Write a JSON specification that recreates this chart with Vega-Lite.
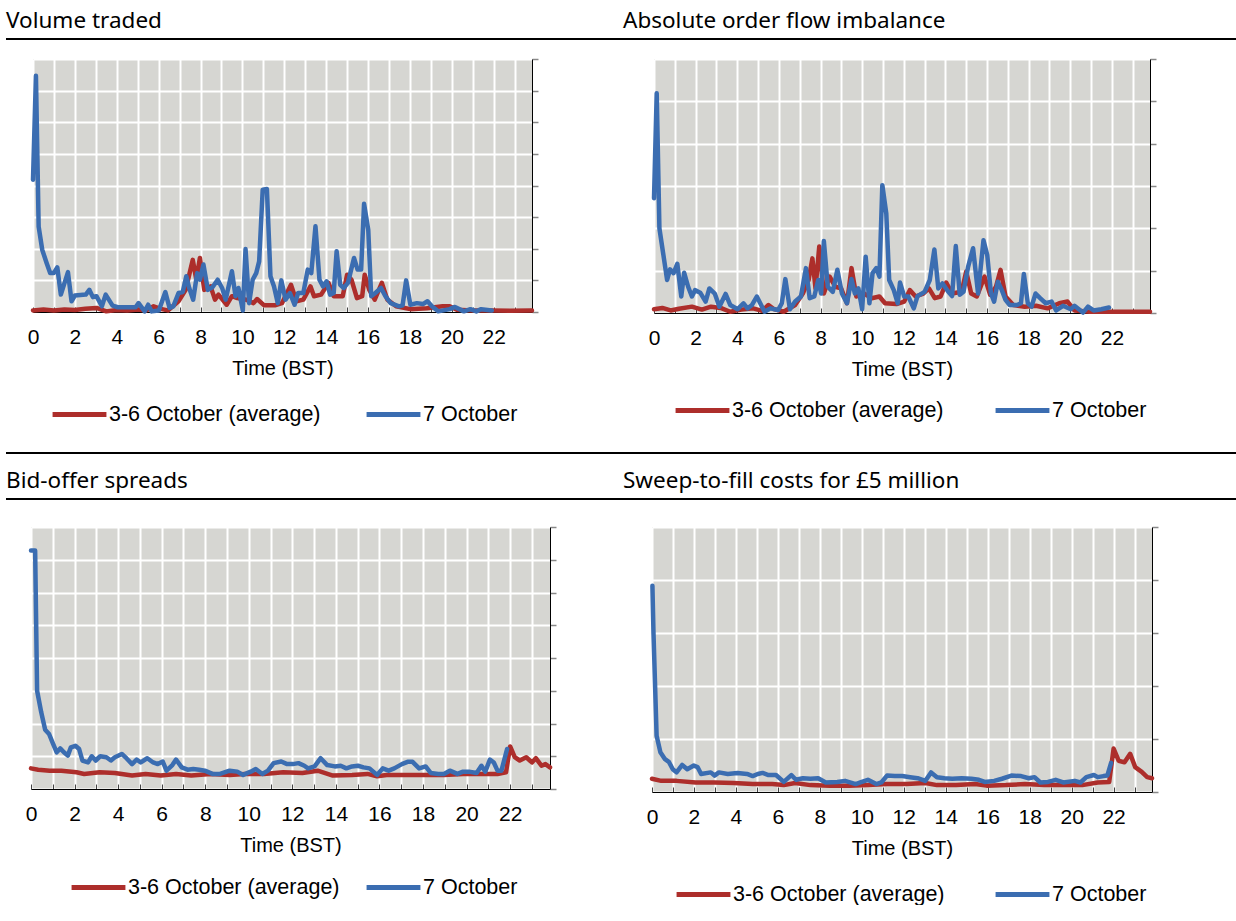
{
"$schema": "https://vega.github.io/schema/vega-lite/v6.json",
"padding": {"left": 6, "top": 9, "right": 0, "bottom": 0},
"background": "white",
"spacing": 0,
"bounds": "flush",
"resolve": {"scale": {"color": "independent"}, "legend": {"color": "independent"}},
"config": {
  "view": {"stroke": null},
  "axis": {"gridColor": "white", "gridWidth": 2, "gridOpacity": 1, "domainColor": "black", "domainWidth": 1, "labelFont": "Liberation Sans", "labelFontSize": 21, "labelColor": "black", "titleFont": "Liberation Sans", "titleFontSize": 20, "titleFontWeight": "normal", "titleColor": "black", "labelFlush": false, "labelOverlap": false, "labelBound": false},
  "axisX": {"tickSize": -5, "tickColor": "#444", "tickWidth": 1, "labelPadding": 19, "titlePadding": 11},
  "axisY": {"labels": false, "tickSize": 6, "tickColor": "#888", "tickWidth": 1.5, "title": null},
  "legend": {"orient": "none", "direction": "horizontal", "symbolType": "stroke", "symbolSize": 2900, "symbolStrokeWidth": 5, "labelFont": "Liberation Sans", "labelFontSize": 21.5, "labelColor": "black", "labelOffset": 0, "padding": 0, "labelLimit": 400},
  "title": {"font": "Noto Sans", "fontSize": 22.5, "fontWeight": "normal", "color": "black", "anchor": "start", "baseline": "alphabetic", "offset": 1}
},
"datasets": {
"vol": [
{"t":0,"v":0.05,"s":"a"},{"t":0.5,"v":0.08,"s":"a"},{"t":1,"v":0.05,"s":"a"},{"t":1.5,"v":0.08,"s":"a"},{"t":2,"v":0.06,"s":"a"},{"t":2.5,"v":0.1,"s":"a"},{"t":3.03,"v":0.13,"s":"a"},{"t":3.5,"v":0.02,"s":"a"},{"t":4,"v":0.06,"s":"a"},{"t":4.5,"v":0.05,"s":"a"},{"t":5,"v":0.08,"s":"a"},{"t":5.4,"v":0.05,"s":"a"},{"t":5.76,"v":0.18,"s":"a"},{"t":6.1,"v":0.1,"s":"a"},{"t":6.44,"v":0.05,"s":"a"},{"t":6.95,"v":0.34,"s":"a"},{"t":7.29,"v":0.7,"s":"a"},{"t":7.63,"v":1.65,"s":"a"},{"t":7.8,"v":1.02,"s":"a"},{"t":7.97,"v":1.71,"s":"a"},{"t":8.18,"v":0.7,"s":"a"},{"t":8.48,"v":0.81,"s":"a"},{"t":8.69,"v":0.39,"s":"a"},{"t":8.86,"v":0.55,"s":"a"},{"t":9.25,"v":0.23,"s":"a"},{"t":9.5,"v":0.5,"s":"a"},{"t":9.76,"v":0.44,"s":"a"},{"t":10.19,"v":0.39,"s":"a"},{"t":10.53,"v":0.28,"s":"a"},{"t":10.7,"v":0.41,"s":"a"},{"t":11.04,"v":0.21,"s":"a"},{"t":11.55,"v":0.21,"s":"a"},{"t":11.89,"v":0.28,"s":"a"},{"t":12.32,"v":0.86,"s":"a"},{"t":12.58,"v":0.34,"s":"a"},{"t":12.91,"v":0.39,"s":"a"},{"t":13.25,"v":0.81,"s":"a"},{"t":13.42,"v":0.5,"s":"a"},{"t":13.76,"v":0.55,"s":"a"},{"t":14.11,"v":0.92,"s":"a"},{"t":14.36,"v":0.5,"s":"a"},{"t":14.79,"v":0.5,"s":"a"},{"t":15.0,"v":1.18,"s":"a"},{"t":15.21,"v":1.02,"s":"a"},{"t":15.47,"v":0.44,"s":"a"},{"t":15.72,"v":0.5,"s":"a"},{"t":15.84,"v":1.18,"s":"a"},{"t":16.06,"v":0.7,"s":"a"},{"t":16.32,"v":0.39,"s":"a"},{"t":16.66,"v":0.92,"s":"a"},{"t":16.92,"v":0.39,"s":"a"},{"t":17.34,"v":0.18,"s":"a"},{"t":18.02,"v":0.09,"s":"a"},{"t":18.8,"v":0.12,"s":"a"},{"t":19.56,"v":0.18,"s":"a"},{"t":19.9,"v":0.18,"s":"a"},{"t":20.24,"v":0.07,"s":"a"},{"t":21,"v":0.05,"s":"a"},{"t":21.9,"v":0.05,"s":"a"},{"t":22.8,"v":0.04,"s":"a"},{"t":23.83,"v":0.05,"s":"a"},
{"t":0,"v":4.18,"s":"b"},{"t":0.14,"v":7.47,"s":"b"},{"t":0.27,"v":2.7,"s":"b"},{"t":0.44,"v":1.97,"s":"b"},{"t":0.65,"v":1.55,"s":"b"},{"t":0.82,"v":1.23,"s":"b"},{"t":0.99,"v":1.23,"s":"b"},{"t":1.16,"v":1.41,"s":"b"},{"t":1.33,"v":0.55,"s":"b"},{"t":1.67,"v":1.26,"s":"b"},{"t":1.84,"v":0.34,"s":"b"},{"t":2.0,"v":0.52,"s":"b"},{"t":2.52,"v":0.55,"s":"b"},{"t":2.69,"v":0.7,"s":"b"},{"t":2.86,"v":0.47,"s":"b"},{"t":3.03,"v":0.5,"s":"b"},{"t":3.29,"v":0.18,"s":"b"},{"t":3.47,"v":0.55,"s":"b"},{"t":3.8,"v":0.2,"s":"b"},{"t":4.05,"v":0.15,"s":"b"},{"t":4.9,"v":0.15,"s":"b"},{"t":5.04,"v":0.28,"s":"b"},{"t":5.33,"v":0.02,"s":"b"},{"t":5.5,"v":0.23,"s":"b"},{"t":5.67,"v":0.02,"s":"b"},{"t":6.01,"v":0.05,"s":"b"},{"t":6.32,"v":0.63,"s":"b"},{"t":6.52,"v":0.13,"s":"b"},{"t":6.7,"v":0.18,"s":"b"},{"t":6.95,"v":0.6,"s":"b"},{"t":7.15,"v":0.63,"s":"b"},{"t":7.32,"v":1.13,"s":"b"},{"t":7.46,"v":0.76,"s":"b"},{"t":7.65,"v":0.39,"s":"b"},{"t":7.84,"v":1.23,"s":"b"},{"t":7.97,"v":1.02,"s":"b"},{"t":8.14,"v":1.5,"s":"b"},{"t":8.35,"v":0.7,"s":"b"},{"t":8.57,"v":0.78,"s":"b"},{"t":8.82,"v":1.02,"s":"b"},{"t":9.03,"v":0.76,"s":"b"},{"t":9.2,"v":0.39,"s":"b"},{"t":9.5,"v":1.29,"s":"b"},{"t":9.67,"v":0.5,"s":"b"},{"t":9.81,"v":0.76,"s":"b"},{"t":10.02,"v":0.05,"s":"b"},{"t":10.15,"v":1.99,"s":"b"},{"t":10.32,"v":0.28,"s":"b"},{"t":10.49,"v":1.02,"s":"b"},{"t":10.66,"v":1.23,"s":"b"},{"t":10.8,"v":1.6,"s":"b"},{"t":10.97,"v":3.87,"s":"b"},{"t":11.17,"v":3.89,"s":"b"},{"t":11.34,"v":1.13,"s":"b"},{"t":11.51,"v":0.81,"s":"b"},{"t":11.69,"v":0.28,"s":"b"},{"t":11.86,"v":1.0,"s":"b"},{"t":12.06,"v":0.39,"s":"b"},{"t":12.27,"v":0.6,"s":"b"},{"t":12.49,"v":0.23,"s":"b"},{"t":12.66,"v":0.6,"s":"b"},{"t":12.91,"v":0.6,"s":"b"},{"t":13.12,"v":1.34,"s":"b"},{"t":13.29,"v":1.23,"s":"b"},{"t":13.49,"v":2.71,"s":"b"},{"t":13.68,"v":1.02,"s":"b"},{"t":13.85,"v":0.81,"s":"b"},{"t":14.02,"v":0.97,"s":"b"},{"t":14.19,"v":0.55,"s":"b"},{"t":14.36,"v":0.6,"s":"b"},{"t":14.5,"v":1.92,"s":"b"},{"t":14.67,"v":0.86,"s":"b"},{"t":14.84,"v":0.76,"s":"b"},{"t":15.04,"v":0.92,"s":"b"},{"t":15.33,"v":1.71,"s":"b"},{"t":15.5,"v":1.34,"s":"b"},{"t":15.67,"v":1.34,"s":"b"},{"t":15.81,"v":3.42,"s":"b"},{"t":16.01,"v":2.6,"s":"b"},{"t":16.15,"v":0.5,"s":"b"},{"t":16.35,"v":0.6,"s":"b"},{"t":16.62,"v":0.76,"s":"b"},{"t":16.83,"v":0.5,"s":"b"},{"t":17.08,"v":0.28,"s":"b"},{"t":17.48,"v":0.18,"s":"b"},{"t":17.65,"v":0.21,"s":"b"},{"t":17.82,"v":1.0,"s":"b"},{"t":18.02,"v":0.23,"s":"b"},{"t":18.33,"v":0.28,"s":"b"},{"t":18.62,"v":0.25,"s":"b"},{"t":18.84,"v":0.34,"s":"b"},{"t":19.05,"v":0.18,"s":"b"},{"t":19.35,"v":0.02,"s":"b"},{"t":19.9,"v":0.09,"s":"b"},{"t":20.15,"v":0.16,"s":"b"},{"t":20.58,"v":0.02,"s":"b"},{"t":20.89,"v":0.09,"s":"b"},{"t":21.17,"v":0.02,"s":"b"},{"t":21.4,"v":0.09,"s":"b"},{"t":21.91,"v":0.05,"s":"b"}
],
"ofi": [
{"t":0,"v":0.09,"s":"a"},{"t":0.4,"v":0.12,"s":"a"},{"t":0.8,"v":0.06,"s":"a"},{"t":1.2,"v":0.1,"s":"a"},{"t":1.82,"v":0.15,"s":"a"},{"t":2.3,"v":0.08,"s":"a"},{"t":2.74,"v":0.15,"s":"a"},{"t":3.2,"v":0.12,"s":"a"},{"t":3.66,"v":0.03,"s":"a"},{"t":4.2,"v":0.08,"s":"a"},{"t":4.76,"v":0.11,"s":"a"},{"t":5.2,"v":0.05,"s":"a"},{"t":5.5,"v":0.19,"s":"a"},{"t":5.77,"v":0.09,"s":"a"},{"t":6.23,"v":0.03,"s":"a"},{"t":6.78,"v":0.19,"s":"a"},{"t":7.15,"v":0.46,"s":"a"},{"t":7.43,"v":0.78,"s":"a"},{"t":7.61,"v":1.29,"s":"a"},{"t":7.76,"v":0.58,"s":"a"},{"t":7.94,"v":1.57,"s":"a"},{"t":8.16,"v":0.46,"s":"a"},{"t":8.44,"v":0.86,"s":"a"},{"t":8.71,"v":0.62,"s":"a"},{"t":8.99,"v":0.58,"s":"a"},{"t":9.27,"v":0.23,"s":"a"},{"t":9.49,"v":1.06,"s":"a"},{"t":9.72,"v":0.39,"s":"a"},{"t":10.09,"v":0.46,"s":"a"},{"t":10.46,"v":0.35,"s":"a"},{"t":10.83,"v":0.39,"s":"a"},{"t":11.1,"v":0.23,"s":"a"},{"t":11.65,"v":0.21,"s":"a"},{"t":12.02,"v":0.27,"s":"a"},{"t":12.29,"v":0.54,"s":"a"},{"t":12.57,"v":0.39,"s":"a"},{"t":12.94,"v":0.46,"s":"a"},{"t":13.21,"v":0.58,"s":"a"},{"t":13.49,"v":0.35,"s":"a"},{"t":13.77,"v":0.39,"s":"a"},{"t":14.04,"v":0.72,"s":"a"},{"t":14.32,"v":0.46,"s":"a"},{"t":14.78,"v":0.5,"s":"a"},{"t":15.0,"v":0.98,"s":"a"},{"t":15.24,"v":0.46,"s":"a"},{"t":15.51,"v":0.39,"s":"a"},{"t":15.88,"v":0.86,"s":"a"},{"t":16.15,"v":0.43,"s":"a"},{"t":16.43,"v":0.62,"s":"a"},{"t":16.65,"v":1.02,"s":"a"},{"t":16.89,"v":0.39,"s":"a"},{"t":17.26,"v":0.19,"s":"a"},{"t":17.81,"v":0.15,"s":"a"},{"t":18.36,"v":0.17,"s":"a"},{"t":18.91,"v":0.11,"s":"a"},{"t":19.47,"v":0.23,"s":"a"},{"t":19.87,"v":0.27,"s":"a"},{"t":20.2,"v":0.06,"s":"a"},{"t":20.94,"v":0.03,"s":"a"},{"t":21.86,"v":0.03,"s":"a"},{"t":22.78,"v":0.03,"s":"a"},{"t":23.83,"v":0.03,"s":"a"},
{"t":0,"v":2.71,"s":"b"},{"t":0.13,"v":5.19,"s":"b"},{"t":0.26,"v":2.0,"s":"b"},{"t":0.44,"v":1.41,"s":"b"},{"t":0.63,"v":0.78,"s":"b"},{"t":0.77,"v":1.03,"s":"b"},{"t":0.94,"v":0.94,"s":"b"},{"t":1.12,"v":1.16,"s":"b"},{"t":1.31,"v":0.39,"s":"b"},{"t":1.45,"v":0.95,"s":"b"},{"t":1.64,"v":0.62,"s":"b"},{"t":1.82,"v":0.39,"s":"b"},{"t":1.97,"v":0.54,"s":"b"},{"t":2.22,"v":0.48,"s":"b"},{"t":2.48,"v":0.27,"s":"b"},{"t":2.66,"v":0.58,"s":"b"},{"t":2.92,"v":0.46,"s":"b"},{"t":3.14,"v":0.15,"s":"b"},{"t":3.44,"v":0.45,"s":"b"},{"t":3.66,"v":0.19,"s":"b"},{"t":4.02,"v":0.09,"s":"b"},{"t":4.3,"v":0.23,"s":"b"},{"t":4.49,"v":0.11,"s":"b"},{"t":4.71,"v":0.19,"s":"b"},{"t":4.94,"v":0.39,"s":"b"},{"t":5.31,"v":0.03,"s":"b"},{"t":5.59,"v":0.11,"s":"b"},{"t":5.96,"v":0.07,"s":"b"},{"t":6.14,"v":0.23,"s":"b"},{"t":6.31,"v":0.8,"s":"b"},{"t":6.53,"v":0.09,"s":"b"},{"t":6.78,"v":0.27,"s":"b"},{"t":7.06,"v":0.39,"s":"b"},{"t":7.3,"v":1.06,"s":"b"},{"t":7.48,"v":0.35,"s":"b"},{"t":7.7,"v":0.39,"s":"b"},{"t":7.89,"v":0.78,"s":"b"},{"t":8.03,"v":0.46,"s":"b"},{"t":8.16,"v":1.7,"s":"b"},{"t":8.35,"v":0.62,"s":"b"},{"t":8.59,"v":0.5,"s":"b"},{"t":8.81,"v":1.02,"s":"b"},{"t":9.03,"v":0.46,"s":"b"},{"t":9.27,"v":0.23,"s":"b"},{"t":9.49,"v":0.8,"s":"b"},{"t":9.65,"v":0.46,"s":"b"},{"t":9.82,"v":0.58,"s":"b"},{"t":10.0,"v":0.09,"s":"b"},{"t":10.17,"v":1.33,"s":"b"},{"t":10.35,"v":0.23,"s":"b"},{"t":10.5,"v":0.94,"s":"b"},{"t":10.68,"v":1.06,"s":"b"},{"t":10.83,"v":0.86,"s":"b"},{"t":10.97,"v":3.02,"s":"b"},{"t":11.16,"v":2.35,"s":"b"},{"t":11.3,"v":0.78,"s":"b"},{"t":11.52,"v":0.54,"s":"b"},{"t":11.71,"v":0.23,"s":"b"},{"t":11.82,"v":0.72,"s":"b"},{"t":12.02,"v":0.39,"s":"b"},{"t":12.22,"v":0.39,"s":"b"},{"t":12.48,"v":0.11,"s":"b"},{"t":12.66,"v":0.4,"s":"b"},{"t":13.0,"v":0.5,"s":"b"},{"t":13.25,"v":0.78,"s":"b"},{"t":13.47,"v":1.5,"s":"b"},{"t":13.66,"v":0.58,"s":"b"},{"t":13.86,"v":0.7,"s":"b"},{"t":14.14,"v":0.5,"s":"b"},{"t":14.32,"v":0.4,"s":"b"},{"t":14.5,"v":1.58,"s":"b"},{"t":14.69,"v":0.43,"s":"b"},{"t":14.87,"v":0.5,"s":"b"},{"t":15.09,"v":1.09,"s":"b"},{"t":15.33,"v":1.53,"s":"b"},{"t":15.57,"v":0.46,"s":"b"},{"t":15.83,"v":1.72,"s":"b"},{"t":16.01,"v":1.37,"s":"b"},{"t":16.19,"v":0.46,"s":"b"},{"t":16.34,"v":0.27,"s":"b"},{"t":16.52,"v":0.74,"s":"b"},{"t":16.71,"v":0.54,"s":"b"},{"t":16.89,"v":0.31,"s":"b"},{"t":17.08,"v":0.19,"s":"b"},{"t":17.44,"v":0.19,"s":"b"},{"t":17.63,"v":0.23,"s":"b"},{"t":17.77,"v":0.92,"s":"b"},{"t":17.96,"v":0.23,"s":"b"},{"t":18.14,"v":0.15,"s":"b"},{"t":18.33,"v":0.46,"s":"b"},{"t":18.55,"v":0.35,"s":"b"},{"t":18.82,"v":0.23,"s":"b"},{"t":19.1,"v":0.27,"s":"b"},{"t":19.32,"v":0.06,"s":"b"},{"t":19.65,"v":0.17,"s":"b"},{"t":20.02,"v":0.09,"s":"b"},{"t":20.2,"v":0.17,"s":"b"},{"t":20.61,"v":0.01,"s":"b"},{"t":20.85,"v":0.15,"s":"b"},{"t":21.12,"v":0.06,"s":"b"},{"t":21.49,"v":0.09,"s":"b"},{"t":21.86,"v":0.13,"s":"b"}
],
"bid": [
{"t":0,"v":0.63,"s":"a"},{"t":0.33,"v":0.59,"s":"a"},{"t":0.86,"v":0.56,"s":"a"},{"t":1.39,"v":0.56,"s":"a"},{"t":2.09,"v":0.51,"s":"a"},{"t":2.44,"v":0.46,"s":"a"},{"t":3.15,"v":0.51,"s":"a"},{"t":3.85,"v":0.49,"s":"a"},{"t":4.64,"v":0.41,"s":"a"},{"t":5.26,"v":0.46,"s":"a"},{"t":5.96,"v":0.41,"s":"a"},{"t":6.66,"v":0.46,"s":"a"},{"t":7.36,"v":0.41,"s":"a"},{"t":8.24,"v":0.46,"s":"a"},{"t":9.12,"v":0.43,"s":"a"},{"t":9.82,"v":0.46,"s":"a"},{"t":10.7,"v":0.46,"s":"a"},{"t":11.58,"v":0.51,"s":"a"},{"t":12.46,"v":0.49,"s":"a"},{"t":13.16,"v":0.56,"s":"a"},{"t":13.86,"v":0.41,"s":"a"},{"t":14.74,"v":0.43,"s":"a"},{"t":15.45,"v":0.46,"s":"a"},{"t":15.89,"v":0.39,"s":"a"},{"t":16.33,"v":0.43,"s":"a"},{"t":17.2,"v":0.43,"s":"a"},{"t":18.08,"v":0.43,"s":"a"},{"t":18.96,"v":0.43,"s":"a"},{"t":19.84,"v":0.46,"s":"a"},{"t":20.72,"v":0.46,"s":"a"},{"t":21.42,"v":0.46,"s":"a"},{"t":21.81,"v":0.51,"s":"a"},{"t":22.0,"v":1.3,"s":"a"},{"t":22.21,"v":0.97,"s":"a"},{"t":22.44,"v":0.87,"s":"a"},{"t":22.74,"v":0.97,"s":"a"},{"t":23.0,"v":0.81,"s":"a"},{"t":23.18,"v":0.94,"s":"a"},{"t":23.44,"v":0.71,"s":"a"},{"t":23.62,"v":0.76,"s":"a"},{"t":23.83,"v":0.66,"s":"a"},
{"t":0,"v":7.28,"s":"b"},{"t":0.19,"v":7.28,"s":"b"},{"t":0.28,"v":3.0,"s":"b"},{"t":0.47,"v":2.34,"s":"b"},{"t":0.65,"v":1.81,"s":"b"},{"t":0.83,"v":1.68,"s":"b"},{"t":1.0,"v":1.4,"s":"b"},{"t":1.18,"v":1.12,"s":"b"},{"t":1.34,"v":1.24,"s":"b"},{"t":1.51,"v":1.12,"s":"b"},{"t":1.69,"v":1.02,"s":"b"},{"t":1.83,"v":1.27,"s":"b"},{"t":2.04,"v":1.32,"s":"b"},{"t":2.21,"v":1.22,"s":"b"},{"t":2.36,"v":0.87,"s":"b"},{"t":2.62,"v":0.81,"s":"b"},{"t":2.79,"v":1.0,"s":"b"},{"t":2.97,"v":0.87,"s":"b"},{"t":3.18,"v":1.0,"s":"b"},{"t":3.46,"v":0.97,"s":"b"},{"t":3.67,"v":0.87,"s":"b"},{"t":3.85,"v":0.97,"s":"b"},{"t":4.17,"v":1.07,"s":"b"},{"t":4.38,"v":0.94,"s":"b"},{"t":4.64,"v":0.76,"s":"b"},{"t":4.85,"v":0.9,"s":"b"},{"t":5.04,"v":0.81,"s":"b"},{"t":5.34,"v":0.94,"s":"b"},{"t":5.61,"v":0.81,"s":"b"},{"t":5.82,"v":0.76,"s":"b"},{"t":6.05,"v":0.84,"s":"b"},{"t":6.22,"v":0.56,"s":"b"},{"t":6.49,"v":0.73,"s":"b"},{"t":6.66,"v":0.9,"s":"b"},{"t":6.92,"v":0.66,"s":"b"},{"t":7.19,"v":0.59,"s":"b"},{"t":7.45,"v":0.61,"s":"b"},{"t":7.72,"v":0.59,"s":"b"},{"t":7.98,"v":0.56,"s":"b"},{"t":8.33,"v":0.46,"s":"b"},{"t":8.68,"v":0.46,"s":"b"},{"t":9.12,"v":0.56,"s":"b"},{"t":9.47,"v":0.53,"s":"b"},{"t":9.74,"v":0.43,"s":"b"},{"t":10.09,"v":0.53,"s":"b"},{"t":10.32,"v":0.61,"s":"b"},{"t":10.62,"v":0.46,"s":"b"},{"t":10.88,"v":0.56,"s":"b"},{"t":11.14,"v":0.79,"s":"b"},{"t":11.49,"v":0.84,"s":"b"},{"t":11.76,"v":0.76,"s":"b"},{"t":12.02,"v":0.76,"s":"b"},{"t":12.28,"v":0.79,"s":"b"},{"t":12.55,"v":0.71,"s":"b"},{"t":12.72,"v":0.63,"s":"b"},{"t":13.02,"v":0.69,"s":"b"},{"t":13.3,"v":0.94,"s":"b"},{"t":13.6,"v":0.73,"s":"b"},{"t":13.95,"v":0.69,"s":"b"},{"t":14.22,"v":0.71,"s":"b"},{"t":14.48,"v":0.63,"s":"b"},{"t":14.74,"v":0.69,"s":"b"},{"t":15.01,"v":0.71,"s":"b"},{"t":15.27,"v":0.66,"s":"b"},{"t":15.54,"v":0.63,"s":"b"},{"t":15.89,"v":0.43,"s":"b"},{"t":16.15,"v":0.63,"s":"b"},{"t":16.42,"v":0.56,"s":"b"},{"t":16.68,"v":0.63,"s":"b"},{"t":17.03,"v":0.76,"s":"b"},{"t":17.29,"v":0.83,"s":"b"},{"t":17.52,"v":0.83,"s":"b"},{"t":17.82,"v":0.63,"s":"b"},{"t":18.12,"v":0.69,"s":"b"},{"t":18.35,"v":0.49,"s":"b"},{"t":18.7,"v":0.46,"s":"b"},{"t":18.96,"v":0.46,"s":"b"},{"t":19.23,"v":0.56,"s":"b"},{"t":19.58,"v":0.46,"s":"b"},{"t":19.84,"v":0.53,"s":"b"},{"t":20.11,"v":0.53,"s":"b"},{"t":20.46,"v":0.49,"s":"b"},{"t":20.68,"v":0.71,"s":"b"},{"t":20.86,"v":0.53,"s":"b"},{"t":21.07,"v":0.9,"s":"b"},{"t":21.25,"v":0.81,"s":"b"},{"t":21.42,"v":0.56,"s":"b"},{"t":21.6,"v":0.56,"s":"b"},{"t":21.86,"v":1.22,"s":"b"}
],
"stf": [
{"t":0,"v":0.25,"s":"a"},{"t":0.44,"v":0.21,"s":"a"},{"t":1.17,"v":0.21,"s":"a"},{"t":2.08,"v":0.18,"s":"a"},{"t":2.98,"v":0.18,"s":"a"},{"t":3.89,"v":0.17,"s":"a"},{"t":4.8,"v":0.15,"s":"a"},{"t":5.73,"v":0.15,"s":"a"},{"t":6.28,"v":0.13,"s":"a"},{"t":6.82,"v":0.17,"s":"a"},{"t":7.55,"v":0.13,"s":"a"},{"t":8.47,"v":0.12,"s":"a"},{"t":9.38,"v":0.12,"s":"a"},{"t":10.29,"v":0.13,"s":"a"},{"t":11.2,"v":0.15,"s":"a"},{"t":12.12,"v":0.15,"s":"a"},{"t":13.03,"v":0.17,"s":"a"},{"t":13.58,"v":0.13,"s":"a"},{"t":14.49,"v":0.13,"s":"a"},{"t":15.4,"v":0.15,"s":"a"},{"t":15.95,"v":0.12,"s":"a"},{"t":16.86,"v":0.13,"s":"a"},{"t":17.77,"v":0.15,"s":"a"},{"t":18.69,"v":0.13,"s":"a"},{"t":19.6,"v":0.13,"s":"a"},{"t":20.51,"v":0.13,"s":"a"},{"t":21.24,"v":0.18,"s":"a"},{"t":21.79,"v":0.19,"s":"a"},{"t":22.0,"v":0.82,"s":"a"},{"t":22.24,"v":0.59,"s":"a"},{"t":22.52,"v":0.56,"s":"a"},{"t":22.79,"v":0.72,"s":"a"},{"t":23.03,"v":0.47,"s":"a"},{"t":23.34,"v":0.38,"s":"a"},{"t":23.6,"v":0.28,"s":"a"},{"t":23.83,"v":0.26,"s":"a"},
{"t":0.02,"v":3.89,"s":"b"},{"t":0.07,"v":3.01,"s":"b"},{"t":0.22,"v":1.06,"s":"b"},{"t":0.4,"v":0.75,"s":"b"},{"t":0.62,"v":0.62,"s":"b"},{"t":0.8,"v":0.57,"s":"b"},{"t":0.99,"v":0.43,"s":"b"},{"t":1.17,"v":0.37,"s":"b"},{"t":1.44,"v":0.51,"s":"b"},{"t":1.68,"v":0.43,"s":"b"},{"t":1.99,"v":0.5,"s":"b"},{"t":2.17,"v":0.47,"s":"b"},{"t":2.34,"v":0.34,"s":"b"},{"t":2.8,"v":0.37,"s":"b"},{"t":2.98,"v":0.31,"s":"b"},{"t":3.19,"v":0.37,"s":"b"},{"t":3.61,"v":0.34,"s":"b"},{"t":4.07,"v":0.36,"s":"b"},{"t":4.53,"v":0.34,"s":"b"},{"t":4.8,"v":0.3,"s":"b"},{"t":5.04,"v":0.34,"s":"b"},{"t":5.27,"v":0.36,"s":"b"},{"t":5.55,"v":0.32,"s":"b"},{"t":5.91,"v":0.32,"s":"b"},{"t":6.28,"v":0.19,"s":"b"},{"t":6.64,"v":0.32,"s":"b"},{"t":6.86,"v":0.23,"s":"b"},{"t":7.19,"v":0.26,"s":"b"},{"t":7.55,"v":0.25,"s":"b"},{"t":7.92,"v":0.26,"s":"b"},{"t":8.28,"v":0.18,"s":"b"},{"t":8.83,"v":0.19,"s":"b"},{"t":9.2,"v":0.21,"s":"b"},{"t":9.71,"v":0.15,"s":"b"},{"t":9.93,"v":0.18,"s":"b"},{"t":10.29,"v":0.23,"s":"b"},{"t":10.69,"v":0.15,"s":"b"},{"t":10.93,"v":0.18,"s":"b"},{"t":11.2,"v":0.31,"s":"b"},{"t":11.57,"v":0.3,"s":"b"},{"t":11.93,"v":0.3,"s":"b"},{"t":12.3,"v":0.28,"s":"b"},{"t":12.66,"v":0.26,"s":"b"},{"t":13.03,"v":0.21,"s":"b"},{"t":13.3,"v":0.37,"s":"b"},{"t":13.58,"v":0.28,"s":"b"},{"t":13.94,"v":0.26,"s":"b"},{"t":14.31,"v":0.25,"s":"b"},{"t":14.76,"v":0.26,"s":"b"},{"t":15.22,"v":0.25,"s":"b"},{"t":15.58,"v":0.23,"s":"b"},{"t":15.86,"v":0.19,"s":"b"},{"t":16.31,"v":0.21,"s":"b"},{"t":16.68,"v":0.25,"s":"b"},{"t":17.13,"v":0.31,"s":"b"},{"t":17.59,"v":0.3,"s":"b"},{"t":17.96,"v":0.26,"s":"b"},{"t":18.23,"v":0.28,"s":"b"},{"t":18.51,"v":0.18,"s":"b"},{"t":18.87,"v":0.19,"s":"b"},{"t":19.24,"v":0.23,"s":"b"},{"t":19.6,"v":0.18,"s":"b"},{"t":20.15,"v":0.21,"s":"b"},{"t":20.42,"v":0.18,"s":"b"},{"t":20.7,"v":0.28,"s":"b"},{"t":21.06,"v":0.32,"s":"b"},{"t":21.24,"v":0.28,"s":"b"},{"t":21.52,"v":0.3,"s":"b"},{"t":21.7,"v":0.31,"s":"b"},{"t":21.88,"v":0.55,"s":"b"}
]
},
"vconcat": [
  {"hconcat": [
    {"width": 617, "height": 2, "title": {"text": "Volume traded"}, "view": {"fill": "black", "stroke": null}, "data": {"values": [{}]}, "mark": {"type": "text"}, "encoding": {"text": {"value": ""}}},
    {"width": 613, "height": 2, "title": {"text": "Absolute order flow imbalance"}, "view": {"fill": "black", "stroke": null}, "data": {"values": [{}]}, "mark": {"type": "text"}, "encoding": {"text": {"value": ""}}}
  ], "spacing": 0, "bounds": "flush"},
  {"width": 1, "height": 21, "data": {"values": [{}]}, "mark": {"type": "text"}, "encoding": {"text": {"value": ""}}},
  {"hconcat": [
    {"width": 27, "height": 1, "data": {"values": [{}]}, "mark": {"type": "text"}, "encoding": {"text": {"value": ""}}},
    {"width": 499, "height": 253, "data": {"name": "vol"}, "view": {"fill": "#d6d6d2", "stroke": null},
     "mark": {"type": "line", "strokeWidth": 4.5, "strokeJoin": "round", "strokeCap": "round"},
     "encoding": {
       "x": {"field": "t", "type": "quantitative", "scale": {"domain": [0, 23.83], "nice": false, "zero": false}, "axis": {"values": [0,1,2,3,4,5,6,7,8,9,10,11,12,13,14,15,16,17,18,19,20,21,22,23], "labelExpr": "datum.value % 2 == 0 ? datum.label : ''", "title": "Time (BST)"}},
       "y": {"field": "v", "type": "quantitative", "scale": {"domain": [0, 8], "nice": false}, "axis": {"orient": "right", "values": [0,1,2,3,4,5,6,7,8]}},
       "color": {"field": "s", "type": "nominal", "scale": {"domain": ["a", "b"], "range": ["#ad2e2b", "#3b6db1"]}, "legend": {"title": null, "legendX": 17, "legendY": 326, "columnPadding": 35, "labelExpr": "datum.value == 'a' ? '3-6 October (average)' : '7 October'"}}
     }},
    {"width": 122, "height": 1, "data": {"values": [{}]}, "mark": {"type": "text"}, "encoding": {"text": {"value": ""}}},
    {"width": 496, "height": 254, "data": {"name": "ofi"}, "view": {"fill": "#d6d6d2", "stroke": null},
     "mark": {"type": "line", "strokeWidth": 4.5, "strokeJoin": "round", "strokeCap": "round"},
     "encoding": {
       "x": {"field": "t", "type": "quantitative", "scale": {"domain": [0, 23.83], "nice": false, "zero": false}, "axis": {"values": [0,1,2,3,4,5,6,7,8,9,10,11,12,13,14,15,16,17,18,19,20,21,22,23], "labelExpr": "datum.value % 2 == 0 ? datum.label : ''", "title": "Time (BST)"}},
       "y": {"field": "v", "type": "quantitative", "scale": {"domain": [0, 6], "nice": false}, "axis": {"orient": "right", "values": [0,1,2,3,4,5,6]}},
       "color": {"field": "s", "type": "nominal", "scale": {"domain": ["a", "b"], "range": ["#ad2e2b", "#3b6db1"]}, "legend": {"title": null, "legendX": 19, "legendY": 322, "columnPadding": 41, "labelExpr": "datum.value == 'a' ? '3-6 October (average)' : '7 October'"}}
     }}
  ], "spacing": 0, "bounds": "flush", "resolve": {"scale": {"color": "independent"}, "legend": {"color": "independent"}}},
  {"width": 1, "height": 393, "data": {"values": [{}]}, "mark": {"type": "text"}, "encoding": {"text": {"value": ""}}},
  {"width": 1230, "height": 2, "view": {"fill": "black", "stroke": null}, "data": {"values": [{}]}, "mark": {"type": "text"}, "encoding": {"text": {"value": ""}}},
  {"width": 1, "height": 44, "data": {"values": [{}]}, "mark": {"type": "text"}, "encoding": {"text": {"value": ""}}},
  {"hconcat": [
    {"width": 617, "height": 2, "title": {"text": "Bid-offer spreads"}, "view": {"fill": "black", "stroke": null}, "data": {"values": [{}]}, "mark": {"type": "text"}, "encoding": {"text": {"value": ""}}},
    {"width": 613, "height": 2, "title": {"text": "Sweep-to-fill costs for £5 million"}, "view": {"fill": "black", "stroke": null}, "data": {"values": [{}]}, "mark": {"type": "text"}, "encoding": {"text": {"value": ""}}}
  ], "spacing": 0, "bounds": "flush"},
  {"width": 1, "height": 29, "data": {"values": [{}]}, "mark": {"type": "text"}, "encoding": {"text": {"value": ""}}},
  {"hconcat": [
    {"width": 25, "height": 1, "data": {"values": [{}]}, "mark": {"type": "text"}, "encoding": {"text": {"value": ""}}},
    {"width": 519, "height": 262, "data": {"name": "bid"}, "view": {"fill": "#d6d6d2", "stroke": null},
     "mark": {"type": "line", "strokeWidth": 4.5, "strokeJoin": "round", "strokeCap": "round"},
     "encoding": {
       "x": {"field": "t", "type": "quantitative", "scale": {"domain": [0, 23.83], "nice": false, "zero": false}, "axis": {"values": [0,1,2,3,4,5,6,7,8,9,10,11,12,13,14,15,16,17,18,19,20,21,22,23], "labelExpr": "datum.value % 2 == 0 ? datum.label : ''", "title": "Time (BST)"}},
       "y": {"field": "v", "type": "quantitative", "scale": {"domain": [0, 8], "nice": false}, "axis": {"orient": "right", "values": [0,1,2,3,4,5,6,7,8]}},
       "color": {"field": "s", "type": "nominal", "scale": {"domain": ["a", "b"], "range": ["#ad2e2b", "#3b6db1"]}, "legend": {"title": null, "legendX": 38, "legendY": 331, "columnPadding": 16, "labelExpr": "datum.value == 'a' ? '3-6 October (average)' : '7 October'"}}
     }},
    {"width": 102, "height": 1, "data": {"values": [{}]}, "mark": {"type": "text"}, "encoding": {"text": {"value": ""}}},
    {"width": 500, "height": 265, "data": {"name": "stf"}, "view": {"fill": "#d6d6d2", "stroke": null},
     "mark": {"type": "line", "strokeWidth": 4.5, "strokeJoin": "round", "strokeCap": "round"},
     "encoding": {
       "x": {"field": "t", "type": "quantitative", "scale": {"domain": [0, 23.83], "nice": false, "zero": false}, "axis": {"values": [0,1,2,3,4,5,6,7,8,9,10,11,12,13,14,15,16,17,18,19,20,21,22,23], "labelExpr": "datum.value % 2 == 0 ? datum.label : ''", "title": "Time (BST)"}},
       "y": {"field": "v", "type": "quantitative", "scale": {"domain": [0, 5], "nice": false}, "axis": {"orient": "right", "values": [0,1,2,3,4,5]}},
       "color": {"field": "s", "type": "nominal", "scale": {"domain": ["a", "b"], "range": ["#ad2e2b", "#3b6db1"]}, "legend": {"title": null, "legendX": 22, "legendY": 338, "columnPadding": 40, "labelExpr": "datum.value == 'a' ? '3-6 October (average)' : '7 October'"}}
     }}
  ], "spacing": 0, "bounds": "flush", "resolve": {"scale": {"color": "independent"}, "legend": {"color": "independent"}}}
]
}
